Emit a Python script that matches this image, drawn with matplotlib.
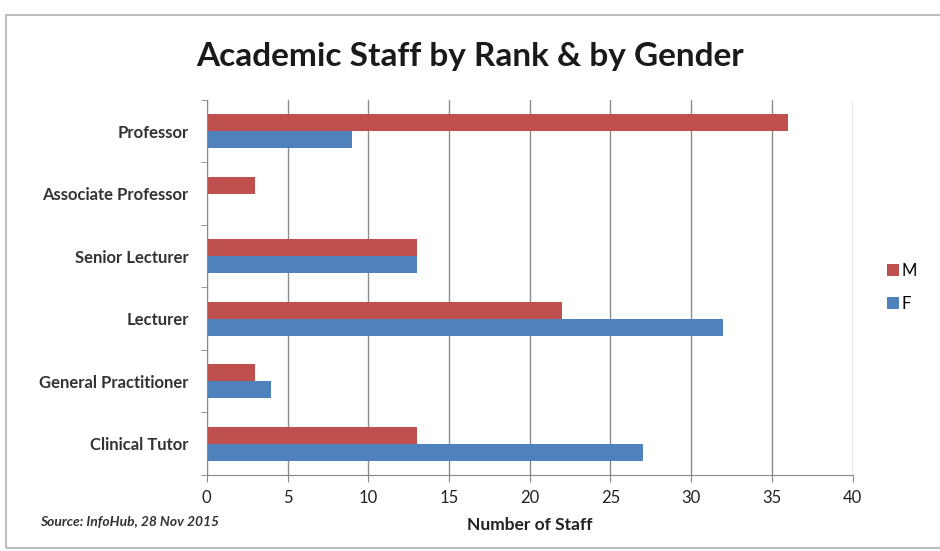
import matplotlib.pyplot as plt
import matplotlib.patches as mpatches
import numpy as np

ranks = ['Professor', 'Associate Professor', 'Senior Lecturer', 'Lecturer',
         'General Practitioner', 'Clinical Tutor']
male = [36, 3, 13, 22, 3, 13]
female = [9, 0, 13, 32, 4, 27]

plt.rcParams['font.family'] = ['Lato', 'DejaVu Sans']

fig = plt.figure(figsize=(9.4, 5.51), dpi=100)
ax = fig.add_axes([0.220, 0.138, 0.687, 0.681])

# outer chart frame
fig.patches.append(mpatches.Rectangle((0.006, 0.006), 1.2, 0.966, transform=fig.transFigure,
                                      fill=False, edgecolor='#bdbdbd', linewidth=1.5))

y = np.arange(len(ranks))[::-1]
h = 0.27
ax.barh(y + h / 2, male, height=h, color='#C0504D', label='M')
ax.barh(y - h / 2, female, height=h, color='#4F81BD', label='F')

ax.set_xlim(0, 40)
ax.set_ylim(-0.5, len(ranks) - 0.5)
ax.set_xticks(np.arange(0, 41, 5))
ax.set_yticks(y)
ax.set_yticklabels(ranks, fontsize=12, fontweight='bold', color='#333333')
ax.set_yticks(np.arange(-0.5, len(ranks), 1), minor=True)
ax.tick_params(axis='y', which='major', length=0, pad=13)
ax.tick_params(axis='y', which='minor', length=4, color='#888888')
ax.tick_params(axis='x', length=5, color='#888888', labelsize=12, labelcolor='#222222', pad=6)
ax.xaxis.grid(True, color='#8c8c8c', linewidth=1)
ax.set_axisbelow(True)
for s in ['top', 'right']:
    ax.spines[s].set_visible(False)
for s in ['left', 'bottom']:
    ax.spines[s].set_color('#888888')

ax.set_xlabel('Number of Staff', fontsize=12.5, fontweight='bold', labelpad=8, color='#222222')
fig.text(0.5, 0.897, 'Academic Staff by Rank & by Gender', ha='center', va='center',
         fontsize=24, fontweight='bold', color='#1a1a1a')
fig.text(0.043, 0.045, 'Source: InfoHub, 28 Nov 2015', fontsize=10, style='italic',
         fontweight='bold', color='#333333')

ax.legend(loc='center left', bbox_to_anchor=(1.03, 0.5), frameon=False, fontsize=12,
          handlelength=0.7, handleheight=0.7, handletextpad=0.2, labelspacing=1.0)

plt.savefig('out.png', dpi=100)
